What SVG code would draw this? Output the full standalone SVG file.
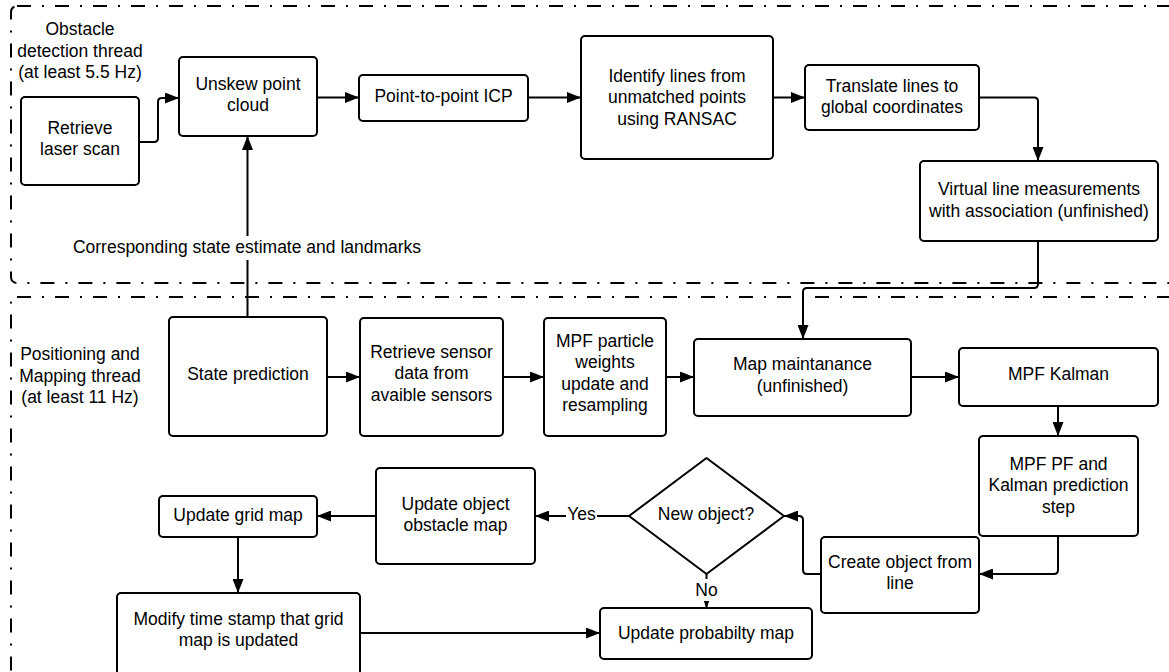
<svg xmlns="http://www.w3.org/2000/svg" width="1169" height="672" viewBox="0 0 1169 672">
<style>
text{font-family:"Liberation Sans",Arial,sans-serif;font-size:17.5px;fill:#000;text-anchor:middle}
.node{fill:#fff;stroke:#000;stroke-width:2}
.cont{fill:none;stroke:#000;stroke-width:2;stroke-dasharray:14 11 2 11}
.edge{fill:none;stroke:#000;stroke-width:2}
.lbl{fill:#fff;stroke:none}
</style>
<defs>
<marker id="arr" markerUnits="userSpaceOnUse" markerWidth="14" markerHeight="11" refX="14" refY="5.5" orient="auto">
<path d="M0,0 L14,5.5 L0,11 z" fill="#000"/>
</marker>
</defs>
<rect width="1169" height="672" fill="#fff"/>
<g id="containers">
<rect class="cont" x="11" y="6" width="1200" height="277" rx="6"/>
<rect class="cont" x="11" y="297" width="1200" height="400" rx="6"/>
<text x="80" y="35">Obstacle</text>
<text x="80" y="56.5">detection thread</text>
<text x="80" y="78">(at least 5.5 Hz)</text>
<text x="80" y="360">Positioning and</text>
<text x="80" y="381.5">Mapping thread</text>
<text x="80" y="403">(at least 11 Hz)</text>
</g>
<g id="connectors">
<path class="edge" d="M139,142 H154 Q158,142 158,138 V102 Q158,98 162,98 H179" marker-end="url(#arr)"/>
<path class="edge" d="M317,97.5 H359" marker-end="url(#arr)"/>
<path class="edge" d="M528,97.5 H581" marker-end="url(#arr)"/>
<path class="edge" d="M773,97.5 H805" marker-end="url(#arr)"/>
<path class="edge" d="M979,97.5 H1034 Q1038,97.5 1038,101.5 V161" marker-end="url(#arr)"/>
<path class="edge" d="M1038,241 V284 Q1038,288 1034,288 H807 Q803,288 803,292 V339" marker-end="url(#arr)"/>
<path class="edge" d="M247.5,317 V136" marker-end="url(#arr)"/>
<rect class="lbl" x="70" y="236" width="356" height="24"/>
<text x="247" y="253.3">Corresponding state estimate and landmarks</text>
<path class="edge" d="M327,377 H360" marker-end="url(#arr)"/>
<path class="edge" d="M503,377 H544" marker-end="url(#arr)"/>
<path class="edge" d="M666,377 H694" marker-end="url(#arr)"/>
<path class="edge" d="M911,377 H959" marker-end="url(#arr)"/>
<path class="edge" d="M1058,406 V436" marker-end="url(#arr)"/>
<path class="edge" d="M1058,536 V570 Q1058,574 1054,574 H979" marker-end="url(#arr)"/>
<path class="edge" d="M821,574 H807 Q803,574 803,570 V520 Q803,516 799,516 H784" marker-end="url(#arr)"/>
<path class="edge" d="M629,516 H535" marker-end="url(#arr)"/>
<rect class="lbl" x="566" y="505" width="31" height="22"/>
<text x="581.5" y="520">Yes</text>
<path class="edge" d="M376,516 H317" marker-end="url(#arr)"/>
<path class="edge" d="M238,537 V593" marker-end="url(#arr)"/>
<path class="edge" d="M360,633 H600" marker-end="url(#arr)"/>
<path class="edge" d="M706.5,574 V608" marker-end="url(#arr)"/>
<rect class="lbl" x="693" y="579" width="27" height="22"/>
<text x="706.5" y="595.7">No</text>
</g>
<g id="n-retrieve-laser">
<rect class="node" x="21" y="97" width="118" height="88" rx="4"/>
<text x="80" y="133.5">Retrieve</text>
<text x="80" y="155">laser scan</text>
</g>
<g id="n-unskew">
<rect class="node" x="179" y="57" width="138" height="79" rx="4"/>
<text x="248" y="89.5">Unskew point</text>
<text x="248" y="110.5">cloud</text>
</g>
<g id="n-icp">
<rect class="node" x="359" y="75" width="169" height="46" rx="4"/>
<text x="443.5" y="102">Point-to-point ICP</text>
</g>
<g id="n-identify">
<rect class="node" x="581" y="36" width="192" height="123" rx="4"/>
<text x="677" y="81.5">Identify lines from</text>
<text x="677" y="103">unmatched points</text>
<text x="677" y="124.5">using RANSAC</text>
</g>
<g id="n-translate">
<rect class="node" x="805" y="65" width="174" height="65" rx="4"/>
<text x="892" y="91.5">Translate lines to</text>
<text x="892" y="113">global coordinates</text>
</g>
<g id="n-virtual">
<rect class="node" x="920" y="161" width="238" height="80" rx="4"/>
<text x="1039" y="195">Virtual line measurements</text>
<text x="1039" y="216.5">with association (unfinished)</text>
</g>
<g id="n-state">
<rect class="node" x="169" y="317" width="158" height="119" rx="4"/>
<text x="248" y="380">State prediction</text>
</g>
<g id="n-sensor">
<rect class="node" x="360" y="318" width="143" height="118" rx="4"/>
<text x="431.5" y="357.5">Retrieve sensor</text>
<text x="431.5" y="379">data from</text>
<text x="431.5" y="400.5">avaible sensors</text>
</g>
<g id="n-mpf-weights">
<rect class="node" x="544" y="318" width="122" height="118" rx="4"/>
<text x="605" y="346.5">MPF particle</text>
<text x="605" y="368">weights</text>
<text x="605" y="389.5">update and</text>
<text x="605" y="411">resampling</text>
</g>
<g id="n-map">
<rect class="node" x="694" y="339" width="217" height="77" rx="4"/>
<text x="802.5" y="370">Map maintanance</text>
<text x="802.5" y="391.5">(unfinished)</text>
</g>
<g id="n-kalman">
<rect class="node" x="959" y="348" width="199" height="58" rx="4"/>
<text x="1058.5" y="380">MPF Kalman</text>
</g>
<g id="n-pf">
<rect class="node" x="979" y="436" width="159" height="100" rx="4"/>
<text x="1058.5" y="469.5">MPF PF and</text>
<text x="1058.5" y="491">Kalman prediction</text>
<text x="1058.5" y="512.5">step</text>
</g>
<g id="n-create">
<rect class="node" x="821" y="537" width="158" height="76" rx="4"/>
<text x="900" y="567.5">Create object from</text>
<text x="900" y="589">line</text>
</g>
<g id="n-newobj">
<path class="node" d="M706.5,458 L784,516 L706.5,574 L629,516 Z" stroke-linejoin="round"/>
<text x="706" y="520">New object?</text>
</g>
<g id="n-obstacle">
<rect class="node" x="376" y="468" width="159" height="96" rx="4"/>
<text x="455.5" y="509.5">Update object</text>
<text x="455.5" y="531">obstacle map</text>
</g>
<g id="n-grid">
<rect class="node" x="159" y="496" width="158" height="41" rx="4"/>
<text x="238" y="520.5">Update grid map</text>
</g>
<g id="n-modify">
<rect class="node" x="117" y="593" width="243" height="90" rx="4"/>
<text x="238.5" y="625">Modify time stamp that grid</text>
<text x="238.5" y="646">map is updated</text>
</g>
<g id="n-prob">
<rect class="node" x="600" y="608" width="212" height="51" rx="4"/>
<text x="706" y="639">Update probabilty map</text>
</g>
</svg>
